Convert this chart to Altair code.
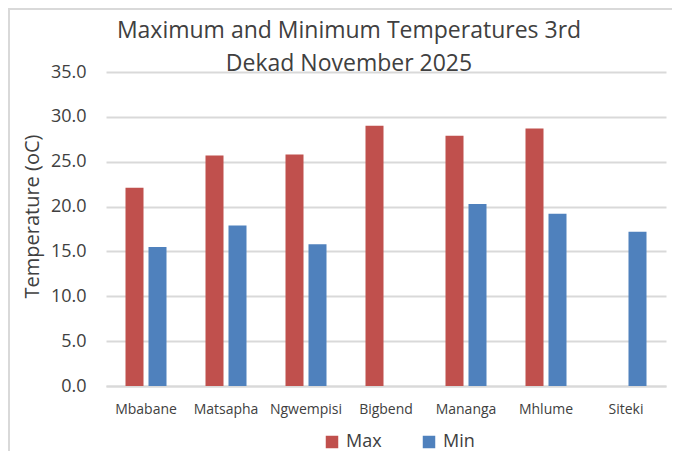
import altair as alt
import pandas as pd

# ---- data ----
stations = ["Mbabane", "Matsapha", "Ngwempisi", "Bigbend", "Mananga", "Mhlume", "Siteki"]
max_temp = [22.1, 25.7, 25.8, 29.0, 27.9, 28.7, None]
min_temp = [15.5, 17.9, 15.8, None, 20.3, 19.2, 17.2]
series = ["Max", "Min"]
colors = ["#C0504D", "#4F81BD"]
y_ticks = [0, 5, 10, 15, 20, 25, 30, 35]
title_lines = ["Maximum and Minimum Temperatures 3rd", "Dekad November 2025"]
y_title = "Temperature (oC)"

rows = []
for st, mx, mn in zip(stations, max_temp, min_temp):
    if mx is not None:
        rows.append({"station": st, "series": "Max", "value": mx})
    if mn is not None:
        rows.append({"station": st, "series": "Min", "value": mn})
df = pd.DataFrame(rows)

FONT = "Open Sans"
TXT = "#404040"
GRID = "#d9d9d9"

bars = alt.Chart(df).mark_bar().encode(
    x=alt.X(
        "station:N",
        sort=stations,
        scale=alt.Scale(paddingInner=0, paddingOuter=0),
        axis=alt.Axis(
            title=None, labelAngle=0, ticks=False, tickSize=0,
            labelPadding=16, labelFontSize=14, labelFont=FONT, labelColor=TXT,
            domainColor=GRID, domainWidth=2, grid=False,
        ),
    ),
    xOffset=alt.XOffset(
        "series:N", sort=series,
        scale=alt.Scale(paddingInner=0.217, paddingOuter=0.848),
    ),
    y=alt.Y(
        "value:Q",
        scale=alt.Scale(domain=[0, 35], nice=False),
        axis=alt.Axis(
            values=y_ticks, format=".1f", title=y_title,
            titleFont=FONT, titleFontSize=20, titleFontWeight="normal", titleColor=TXT,
            titleX=-74, titleY=144, titleAngle=-90, titleAlign="center", titleBaseline="middle",
            labelFont=FONT, labelFontSize=18, labelColor=TXT, labelPadding=20,
            ticks=False, tickSize=0, domain=False,
            gridColor=GRID, gridWidth=2,
        ),
    ),
    color=alt.Color(
        "series:N",
        scale=alt.Scale(domain=series, range=colors),
        legend=alt.Legend(
            title=None, orient="none", legendX=217, legendY=361,
            direction="horizontal", symbolType="square", symbolSize=156,
            symbolStrokeWidth=0, labelFont=FONT, labelFontSize=18, labelColor=TXT,
            labelOffset=5, columnPadding=38,
        ),
    ),
)

frame_df = pd.DataFrame({"k": [0]})
frame_left = alt.Chart(frame_df).mark_rule(color=GRID, strokeWidth=2).encode(
    x=alt.value(-97), y=alt.value(-64), y2=alt.value(379)
)
frame_top = alt.Chart(frame_df).mark_rule(color=GRID, strokeWidth=2).encode(
    x=alt.value(-98), x2=alt.value(566), y=alt.value(-63)
)

chart = alt.layer(frame_left, frame_top, bars).properties(
    width=560,
    height=314,
    padding={"left": 98, "top": 64, "right": 14, "bottom": 65},
    autosize=alt.AutoSizeParams(type="none"),
    title=alt.TitleParams(
        text=title_lines, font=FONT, fontSize=23, fontWeight="normal", color=TXT,
        anchor="middle", dx=-37, lineHeight=33, offset=0, baseline="top", dy=69,
    ),
).configure_view(stroke=None)

chart.save("out.html", embed_options={"renderer": "svg", "actions": False})
